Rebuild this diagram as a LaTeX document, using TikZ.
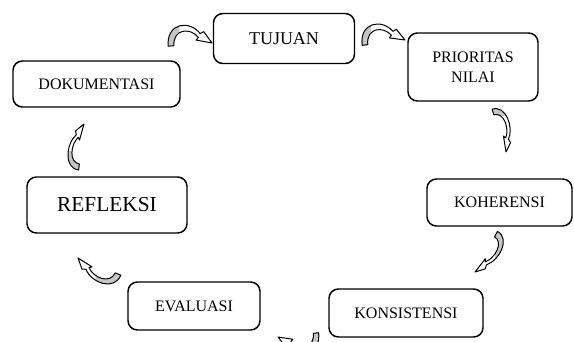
\documentclass[tikz,border=0pt]{standalone}
\usepackage{fontspec}
\setmainfont{Liberation Serif}
\usetikzlibrary{calc}

\tikzset{
  stage/.style={draw, rounded corners=7pt, line width=1.1pt, align=center,
    inner sep=2pt, font=\fontsize{12}{15}\selectfont},
  curl/.style={draw=black, line width=0.75pt, line join=round},
}

% ribbon of a curled arrow, tail at (0,0) and tip at (1,0)
\newcommand{\curlshape}{(-0.07,0) .. controls (-0.07,0.58) and (0.5,0.6) .. (0.73,0.25)
  -- (0.82,0.29) -- (1,0) -- (0.62,0.1) -- (0.68,0.16)
  .. controls (0.5,0.42) and (0.08,0.42) .. (0.07,0) -- cycle}

% \curlarrow[bulge]{tail}{head}
\newcommand{\curlarrow}[3][1]{%
  \begin{scope}[x={($(#3)-(#2)$)}, y={($(#2)!#1!90:(#3)-(#2)$)}, shift={(#2)}]
    \fill[white] \curlshape;
    \begin{scope}
      \clip (-0.5,-0.5) rectangle (0.28,1);
      \fill[gray!45] \curlshape;
    \end{scope}
    \draw[curl] \curlshape;
  \end{scope}}

\begin{document}
\begin{tikzpicture}[x=0.75pt, y=-0.75pt]
  \useasboundingbox (0,0) rectangle (574,342);
  \clip (0,0) rectangle (574,342);

  % Define nodes
  \node[stage, minimum width=105.75pt, minimum height=37.5pt, font=\fontsize{13.5}{16}\selectfont]
    (tujuan) at (284,38.5) {TUJUAN};
  \node[stage, minimum width=97.5pt, minimum height=51pt]
    (prioritas) at (473,67) {PRIORITAS\\NILAI};
  \node[stage, minimum width=108.75pt, minimum height=35.25pt]
    (koherensi) at (499.5,202.5) {KOHERENSI};
  \node[stage, minimum width=115.5pt, minimum height=36pt]
    (konsistensi) at (406,313) {KONSISTENSI};
  \node[stage, minimum width=99pt, minimum height=36pt]
    (evaluasi) at (194,306) {EVALUASI};
  \node[stage, minimum width=120pt, minimum height=42pt, font=\fontsize{16}{19}\selectfont]
    (refleksi) at (107,205) {REFLEKSI};
  \node[stage, minimum width=125.25pt, minimum height=34.5pt]
    (dokumentasi) at (96.5,84) {DOKUMENTASI};

  % Ends of the curled arrows
  \coordinate (dok-t) at (171,46);  \coordinate (tuj-h) at (212,43);
  \coordinate (tuj-t) at (365,45);  \coordinate (pri-h) at (405,40);
  \coordinate (pri-t) at (493,112); \coordinate (koh-h) at (506,152);
  \coordinate (koh-t) at (496,234); \coordinate (kon-h) at (475,272);
  \coordinate (kon-t) at (316,333); \coordinate (eva-h) at (278,337);
  \coordinate (eva-t) at (118,274); \coordinate (ref-h) at (78,258);
  \coordinate (ref-t) at (79,167);  \coordinate (dok-h) at (84,124);

  % Connect the nodes
  \curlarrow{dok-t}{tuj-h}
  \curlarrow{tuj-t}{pri-h}
  \curlarrow[0.6]{pri-t}{koh-h}
  \curlarrow[0.6]{koh-t}{kon-h}
  \curlarrow{kon-t}{eva-h}
  \curlarrow[0.7]{eva-t}{ref-h}
  \curlarrow[0.6]{ref-t}{dok-h}
\end{tikzpicture}
\end{document}
